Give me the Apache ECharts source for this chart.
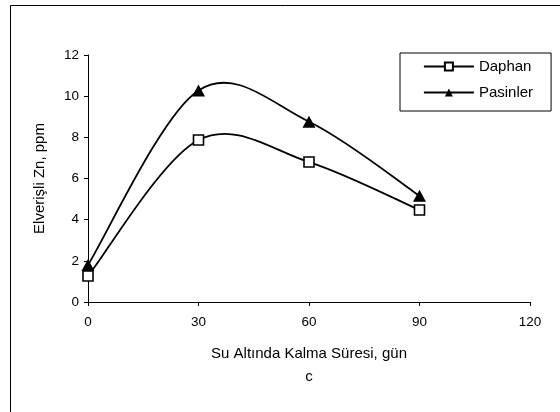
<!DOCTYPE html>
<html>
<head>
<meta charset="utf-8">
<script src="https://cdn.jsdelivr.net/npm/echarts@6/dist/echarts.min.js"></script>
<style>
  html, body { margin: 0; padding: 0; background: #fff; }
  #chart { width: 560px; height: 412px; }
</style>
</head>
<body>
<div id="chart"></div>
<script>
// gün
var days = [0, 30, 60, 90];
var daphan = [1.26, 7.87, 6.8, 4.47];
var pasinler = [1.8, 10.28, 8.76, 5.16];
var xTicks = [0, 30, 60, 90, 120];
var yTicks = [0, 2, 4, 6, 8, 10, 12];

function pairs(xs, ys) {
  return xs.map(function (x, i) { return [x, ys[i]]; });
}

// Excel tarzı yumuşak çizgi (Catmull-Rom -> bezier), noktalar api.coord ile
function splineItem(xs, ys) {
  return function (params, api) {
    var i = params.dataIndex;
    var n = xs.length;
    if (i >= n - 1) return null;
    function pt(k) {
      k = Math.max(0, Math.min(n - 1, k));
      return api.coord([xs[k], ys[k]]);
    }
    var p0 = pt(i - 1), p1 = pt(i), p2 = pt(i + 1), p3 = pt(i + 2);
    return {
      type: 'bezierCurve',
      shape: {
        x1: p1[0], y1: p1[1],
        cpx1: p1[0] + (p2[0] - p0[0]) / 6, cpy1: p1[1] + (p2[1] - p0[1]) / 6,
        cpx2: p2[0] - (p3[0] - p1[0]) / 6, cpy2: p2[1] - (p3[1] - p1[1]) / 6,
        x2: p2[0], y2: p2[1]
      },
      style: { fill: null, stroke: '#000', lineWidth: 1.8 },
      silent: true
    };
  };
}

var font = 'Liberation Sans, Arial, sans-serif';
var chart = echarts.init(document.getElementById('chart'));

chart.setOption({
  animation: false,
  backgroundColor: '#fff',
  textStyle: { fontFamily: font, color: '#000' },
  // dış çerçeve
  graphic: [{
    type: 'rect',
    shape: { x: 10.5, y: 5.5, width: 600, height: 500 },
    style: { fill: 'none', stroke: '#000', lineWidth: 1 },
    silent: true
  }],
  grid: { left: 88, right: 30, top: 55, bottom: 110 },
  legend: {
    left: 400,
    top: 53,
    orient: 'vertical',
    itemWidth: 50,
    itemHeight: 10,
    itemGap: 11,
    padding: [6, 18, 11, 23],
    borderColor: '#000',
    borderWidth: 1,
    lineStyle: { color: '#000', width: 1.8, opacity: 1, type: 'solid' },
    textStyle: { fontFamily: font, fontSize: 15, color: '#000' },
    data: ['Daphan', 'Pasinler']
  },
  xAxis: {
    type: 'value',
    min: xTicks[0],
    max: xTicks[xTicks.length - 1],
    interval: 30,
    name: 'Su Altında Kalma Süresi, gün\nc',
    nameLocation: 'middle',
    nameGap: 40,
    nameTextStyle: { fontFamily: font, fontSize: 15, color: '#000', lineHeight: 23 },
    axisLine: { lineStyle: { color: '#000', width: 1 } },
    axisTick: { show: true, length: 4, lineStyle: { color: '#000' } },
    axisLabel: { fontFamily: font, fontSize: 13.5, color: '#000', margin: 13 },
    splitLine: { show: false }
  },
  yAxis: {
    type: 'value',
    min: yTicks[0],
    max: yTicks[yTicks.length - 1],
    interval: 2,
    name: 'Elverişli Zn, ppm',
    nameLocation: 'middle',
    nameGap: 41,
    nameTextStyle: { fontFamily: font, fontSize: 15, color: '#000' },
    axisLine: { show: true, lineStyle: { color: '#000', width: 1 } },
    axisTick: { show: true, length: 4, lineStyle: { color: '#000' } },
    axisLabel: { fontFamily: font, fontSize: 13.5, color: '#000', margin: 9 },
    splitLine: { show: false }
  },
  series: [
    {
      name: 'Daphan-curve',
      type: 'custom',
      data: pairs(days, daphan),
      encode: { x: 0, y: 1 },
      renderItem: splineItem(days, daphan),
      z: 1
    },
    {
      name: 'Pasinler-curve',
      type: 'custom',
      data: pairs(days, pasinler),
      encode: { x: 0, y: 1 },
      renderItem: splineItem(days, pasinler),
      z: 1
    },
    {
      name: 'Daphan',
      type: 'line',
      data: pairs(days, daphan),
      symbol: 'rect',
      symbolSize: 10,
      showAllSymbol: true,
      lineStyle: { color: '#000', width: 1.8, opacity: 0 },
      itemStyle: { color: '#fff', borderColor: '#000', borderWidth: 1.6 },
      z: 4
    },
    {
      name: 'Pasinler',
      type: 'line',
      data: pairs(days, pasinler),
      symbol: 'triangle',
      symbolSize: [13, 12],
      showAllSymbol: true,
      lineStyle: { color: '#000', width: 1.8, opacity: 0 },
      itemStyle: { color: '#000', borderColor: '#000', borderWidth: 0 },
      z: 3
    }
  ]
});
</script>
</body>
</html>
